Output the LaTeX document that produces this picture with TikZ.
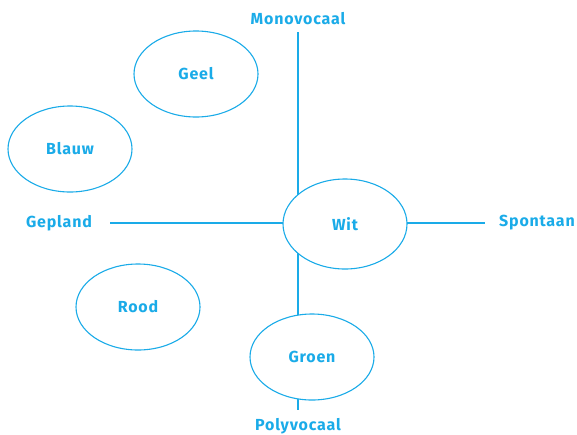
\documentclass[tikz,border=0pt]{standalone}
\usepackage{fontspec}
\setmainfont{Fira Sans}
\usetikzlibrary{positioning, shapes.geometric}
\definecolor{cyaan}{HTML}{1AABE8}

\begin{document}
\begin{tikzpicture}[x=1pt, y=-1pt, line width=1.1pt, draw=cyaan,
    every node/.style={text=cyaan, font=\fontsize{16}{18}\selectfont\addfontfeature{LetterSpace=5}\bfseries},
    kleur/.style={ellipse, draw=cyaan, fill=white, line width=1.1pt, minimum width=124pt, minimum height=86pt}]
    \useasboundingbox (0,0) rectangle (577,434);

    % Assen
    \node (mono) at (298,19) {Monovocaal};
    \node (poly) at (298,426) {Polyvocaal};
    \node (gepland) at (59,223) {Gepland};
    \node (spontaan) at (537,223) {Spontaan};
    \coordinate (boven) at (298,32);
    \coordinate (onder) at (298,410);
    \coordinate (links) at (110,223);
    \coordinate (rechts) at (485,223);
    \draw[cyaan] (boven) -- (onder);
    \draw[cyaan] (links) -- (rechts);

    % Kleuren
    \node[kleur] (geel) at (196,74) {Geel};
    \node[kleur] (blauw) at (70,149) {Blauw};
    \node[kleur, minimum height=90pt] (wit) at (345,224) {Wit};
    \node[kleur] (rood) at (138,307) {Rood};
    \node[kleur] (groen) at (312,357) {Groen};
\end{tikzpicture}
\end{document}
